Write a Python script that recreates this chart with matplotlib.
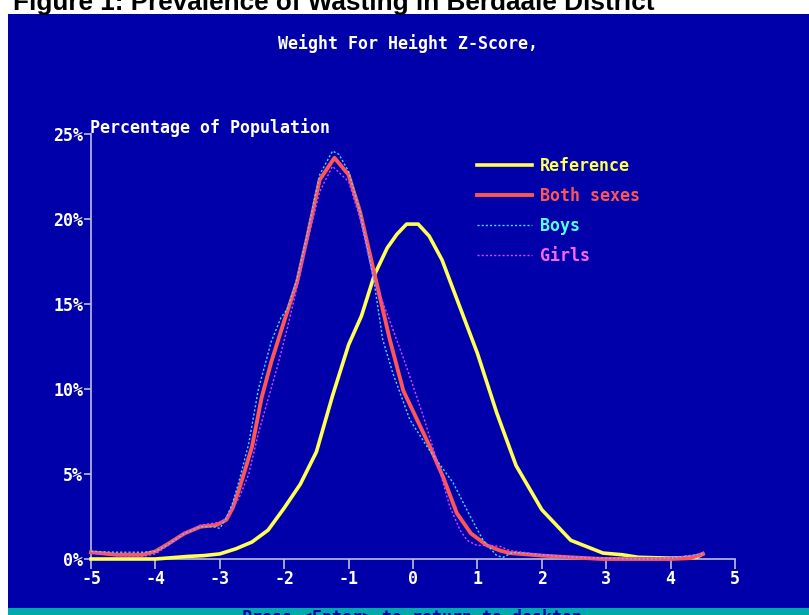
import matplotlib
matplotlib.use("Agg")
import matplotlib.pyplot as plt
from matplotlib.patches import Rectangle

# colours of the old DOS screen
screen_blue = '#0000AA'
bar_cyan = '#00AAAA'
axis_grey = '#BDBDDD'
ega_yellow = '#FFFF55'
ega_red = '#FF5555'
ega_cyan = '#44DDFF'
ega_magenta = '#DD44FF'

# data (z-score vs percentage of population)
ref_x = [-5.0, -4.5, -4.0, -3.5, -3.25, -3.0, -2.75, -2.5, -2.25, -2.0, -1.75, -1.5,
         -1.25, -1.0, -0.8, -0.6, -0.4, -0.25, -0.1, 0.08, 0.25, 0.45, 0.75, 1.0,
         1.3, 1.6, 2.0, 2.45, 2.95, 3.25, 3.5, 4.0, 4.4, 4.5]
ref_y = [0.0, 0.0, 0.0, 0.15, 0.2, 0.3, 0.6, 1.0, 1.7, 3.0, 4.4, 6.3,
         9.6, 12.6, 14.3, 16.7, 18.3, 19.1, 19.7, 19.7, 19.0, 17.6, 14.6, 12.1,
         8.6, 5.5, 2.9, 1.1, 0.35, 0.25, 0.1, 0.05, 0.1, 0.3]

both_x = [-5.0, -4.6, -4.2, -4.0, -3.8, -3.55, -3.3, -3.05, -2.9, -2.8, -2.7, -2.5,
          -2.35, -2.2, -2.0, -1.8, -1.65, -1.45, -1.22, -1.0, -0.82, -0.6, -0.36,
          -0.15, 0.05, 0.25, 0.47, 0.68, 0.9, 1.15, 1.35, 1.5, 2.0, 2.45, 2.95,
          3.5, 4.0, 4.3, 4.5]
both_y = [0.4, 0.25, 0.25, 0.45, 0.9, 1.5, 1.9, 2.0, 2.3, 3.0, 4.1, 6.6,
          9.5, 11.6, 14.0, 16.3, 18.8, 22.3, 23.6, 22.6, 20.4, 16.8, 12.9,
          9.9, 8.3, 6.7, 4.8, 2.7, 1.5, 0.8, 0.5, 0.35, 0.2, 0.1, 0.0,
          0.0, 0.0, 0.05, 0.3]

boys_x = [-5.0, -4.6, -4.2, -4.0, -3.8, -3.55, -3.3, -3.1, -3.0, -2.9, -2.8, -2.7,
          -2.55, -2.4, -2.2, -2.05, -1.95, -1.8, -1.65, -1.45, -1.25, -1.15, -1.0,
          -0.82, -0.6, -0.47, -0.31, -0.05, 0.22, 0.37, 0.62, 0.89, 1.09, 1.3,
          1.4, 1.55, 2.0, 2.5, 3.0, 3.5, 4.0, 4.5]
boys_y = [0.45, 0.4, 0.4, 0.45, 0.85, 1.5, 1.9, 1.9, 1.8, 2.4, 3.3, 4.6,
          6.8, 10.0, 12.8, 14.2, 14.7, 16.5, 19.0, 22.6, 24.0, 23.8, 22.8,
          20.4, 16.2, 12.9, 10.9, 8.2, 6.6, 5.8, 4.5, 2.5, 1.1, 0.2,
          0.1, 0.4, 0.25, 0.1, 0.05, 0.0, 0.05, 0.3]

girls_x = [-5.0, -4.6, -4.2, -4.0, -3.8, -3.55, -3.3, -3.1, -2.95, -2.85, -2.7, -2.55,
           -2.4, -2.25, -2.1, -1.95, -1.8, -1.65, -1.45, -1.25, -1.0, -0.82, -0.62,
           -0.36, -0.1, 0.16, 0.37, 0.57, 0.73, 0.84, 0.99, 1.15, 1.35, 1.5, 2.0,
           2.5, 3.0, 3.5, 4.0, 4.5]
girls_y = [0.35, 0.2, 0.15, 0.3, 0.8, 1.5, 2.0, 2.1, 2.2, 2.7, 3.6, 5.0,
           7.4, 9.4, 11.4, 13.6, 16.0, 18.5, 21.6, 23.1, 22.2, 20.0, 16.6,
           14.0, 11.3, 8.4, 5.8, 3.1, 1.7, 1.1, 0.8, 0.8, 0.75, 0.5, 0.25,
           0.1, 0.05, 0.0, 0.05, 0.3]

x_ticks = [-5, -4, -3, -2, -1, 0, 1, 2, 3, 4, 5]
y_ticks = [0, 5, 10, 15, 20, 25]
y_ticklabels = ['0%', '5%', '10%', '15%', '20%', '25%']

plt.rcParams['axes.unicode_minus'] = False
mono = dict(family='DejaVu Sans Mono', weight='bold')
fsize = 12

W, H = 809, 615
fig = plt.figure(figsize=(W / 100, H / 100), dpi=100)
fig.patch.set_facecolor('white')

def fx(px):
    return px / W

def fy(py):
    return 1 - py / H

# blue screen and the cyan status bar, kept behind the axes
fig.patches.append(Rectangle((fx(8), 0), 1, fy(14), transform=fig.transFigure,
                             facecolor=screen_blue, edgecolor='none', zorder=-3))
fig.patches.append(Rectangle((fx(8), 0), 1, fy(608), transform=fig.transFigure,
                             facecolor=bar_cyan, edgecolor='none', zorder=-2))

fig.text(fx(13), fy(10), 'Figure 1: Prevalence of Wasting in Berdaale District',
         family='Liberation Sans', weight='bold', fontsize=18.8, color='black',
         ha='left', va='baseline', zorder=-1)
fig.text(fx(412), fy(623), 'Press <Enter> to return to desktop', color=screen_blue,
         fontsize=fsize, ha='center', va='baseline', **mono)
fig.text(fx(408), fy(44), 'Weight For Height Z-Score,', color='white',
         fontsize=fsize, ha='center', va='center', **mono)
fig.text(fx(90), fy(128), 'Percentage of Population', color='white',
         fontsize=fsize, ha='left', va='center', **mono)

ax = fig.add_axes([fx(91), fy(559), fx(735) - fx(91), fy(134) - fy(559)])
ax.set_facecolor('none')
ax.set_xlim(-5, 5)
ax.set_ylim(0, 25)

ax.plot(ref_x, ref_y, color=ega_yellow, lw=2.6, label='Reference', clip_on=False, zorder=3)
ax.plot(both_x, both_y, color=ega_red, lw=2.8, label='Both sexes', clip_on=False, zorder=4)
ax.plot(boys_x, boys_y, color=ega_cyan, lw=1.0, ls=(0, (1.5, 1.5)), label='Boys',
        clip_on=False, zorder=5)
ax.plot(girls_x, girls_y, color=ega_magenta, lw=1.0, ls=(0, (1.5, 1.5)), label='Girls',
        clip_on=False, zorder=5)

for side in ['top', 'right']:
    ax.spines[side].set_visible(False)
for side in ['left', 'bottom']:
    ax.spines[side].set_color(axis_grey)
    ax.spines[side].set_linewidth(1.2)

ax.set_xticks(x_ticks)
ax.set_xticklabels([str(t) for t in x_ticks])
ax.set_yticks(y_ticks)
ax.set_yticklabels(y_ticklabels)
ax.tick_params(axis='x', direction='out', length=7.5, width=1.2, color=axis_grey,
               pad=0.5, labelcolor='white')
ax.tick_params(axis='y', direction='out', length=5, width=1.2, color=axis_grey,
               pad=0.5, labelcolor='white')
for lab in ax.get_xticklabels() + ax.get_yticklabels():
    lab.set_fontfamily('DejaVu Sans Mono')
    lab.set_fontweight('bold')
    lab.set_fontsize(fsize)

leg = fig.legend(loc='upper left', bbox_to_anchor=(fx(477), fy(157)),
                 frameon=False, borderpad=0, borderaxespad=0,
                 handlelength=3.3, handletextpad=0.48, labelspacing=0.72,
                 prop=dict(family='DejaVu Sans Mono', weight='bold', size=fsize))
for txt, c in zip(leg.get_texts(), [ega_yellow, ega_red, '#55FFFF', '#FF66FF']):
    txt.set_color(c)

fig.savefig('out.png', dpi=100, facecolor=fig.get_facecolor())
